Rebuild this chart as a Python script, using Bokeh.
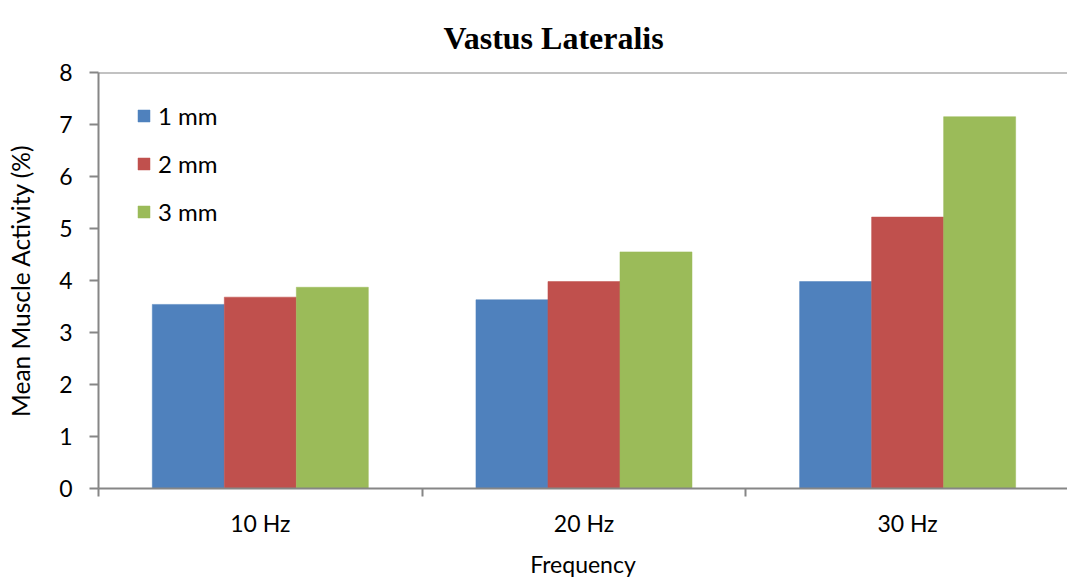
from bokeh.plotting import figure
from bokeh.models import (ColumnDataSource, Range1d, FixedTicker, Span, Legend, LegendItem)
from bokeh.embed import file_html
from bokeh.resources import INLINE

# ---- data ----
title_text = "Vastus Lateralis"
categories = ["10 Hz", "20 Hz", "30 Hz"]
series_names = ["1 mm", "2 mm", "3 mm"]
mm1 = [3.54, 3.63, 3.98]
mm2 = [3.68, 3.98, 5.22]
mm3 = [3.87, 4.55, 7.15]
y_ticks = [0, 1, 2, 3, 4, 5, 6, 7, 8]

colors = ["#4F81BD", "#C0504D", "#9BBB59"]
bar_w = 0.2225
offsets = [-bar_w, 0.0, bar_w]

FONT = "Lato"
FS = "23px"
AXIS_GREY = "#868686"

p = figure(width=1067, height=580, output_backend="svg", toolbar_location=None,
           x_range=Range1d(0, 2.994), y_range=Range1d(0, 8),
           min_border_left=98, min_border_right=0, min_border_top=72, min_border_bottom=90,
           title=title_text)
p.outline_line_color = None
p.xgrid.visible = False
p.ygrid.visible = False
p.background_fill_color = "white"
p.border_fill_color = "white"

p.title.text_font = "Liberation Serif"
p.title.text_font_size = "32px"
p.title.text_font_style = "bold"
p.title.align = "left"
p.title.offset = 345
p.title.vertical_align = "bottom"
p.title.standoff = 33
p.title.text_color = "black"

xc = [i + 0.5 for i in range(len(categories))]
items = []
for vals, name, col, off in zip([mm1, mm2, mm3], series_names, colors, offsets):
    src = ColumnDataSource(dict(x=[c + off for c in xc], top=vals, cat=categories))
    r = p.vbar(x="x", top="top", bottom=0, width=bar_w, source=src,
               fill_color=col, line_color=col, line_width=0.5)
    items.append(LegendItem(label=name, renderers=[r]))

# top line at y = 8
p.add_layout(Span(location=8, dimension="width", line_color=AXIS_GREY, line_width=2))

# x axis
xa = p.xaxis[0]
xa.ticker = FixedTicker(ticks=xc, minor_ticks=[0, 1, 2, 3])
xa.major_label_overrides = {c: lab for c, lab in zip(xc, categories)}
xa.major_tick_out = 0
xa.major_tick_in = 0
xa.minor_tick_out = 8
xa.minor_tick_in = 0
xa.minor_tick_line_color = AXIS_GREY
xa.minor_tick_line_width = 2
xa.axis_line_color = AXIS_GREY
xa.axis_line_width = 2
xa.major_label_text_font = FONT
xa.major_label_text_font_size = FS
xa.major_label_text_color = "black"
xa.major_label_standoff = 12
xa.axis_label = "Frequency"
xa.axis_label_text_font = FONT
xa.axis_label_text_font_size = FS
xa.axis_label_text_font_style = "normal"
xa.axis_label_text_color = "black"
xa.axis_label_standoff = 10

# y axis
ya = p.yaxis[0]
ya.ticker = FixedTicker(ticks=y_ticks)
ya.major_tick_out = 9
ya.major_tick_in = 0
ya.minor_tick_out = 0
ya.minor_tick_in = 0
ya.major_tick_line_color = AXIS_GREY
ya.major_tick_line_width = 2
ya.axis_line_color = AXIS_GREY
ya.axis_line_width = 2
ya.major_label_text_font = FONT
ya.major_label_text_font_size = FS
ya.major_label_text_color = "black"
ya.major_label_standoff = 17
ya.axis_label = "Mean Muscle Activity (%)"
ya.axis_label_text_font = FONT
ya.axis_label_text_font_size = "24.5px"
ya.axis_label_text_font_style = "normal"
ya.axis_label_text_color = "black"
ya.axis_label_standoff = 21

legend = Legend(items=items, location=(38, 262), orientation="vertical",
                glyph_width=15, glyph_height=15, label_height=30, spacing=18,
                padding=0, margin=0, border_line_color=None, background_fill_alpha=0,
                label_text_font=FONT, label_text_font_size="24px", label_text_color="black",
                label_standoff=7)
p.add_layout(legend)

open("out.html", "w").write(file_html(p, INLINE))
